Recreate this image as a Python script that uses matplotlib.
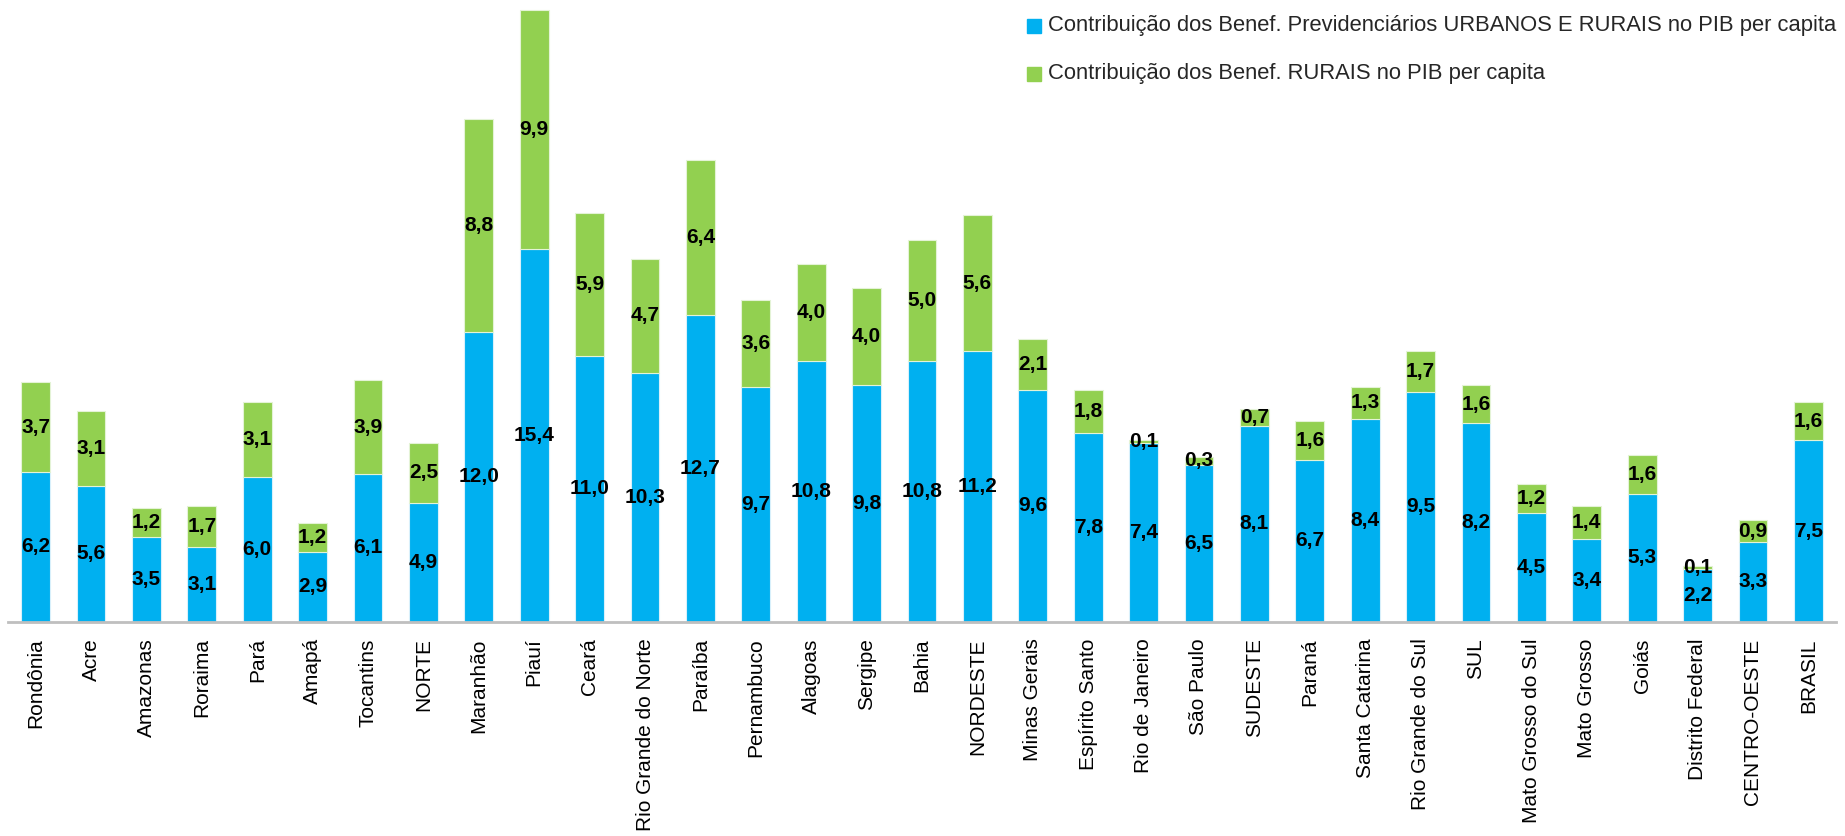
import matplotlib
matplotlib.use("Agg")
import matplotlib.pyplot as plt
from matplotlib.patches import Rectangle

plt.rcParams['font.family'] = ['Liberation Sans', 'DejaVu Sans']

estados = ['Rondônia', 'Acre', 'Amazonas', 'Roraima', 'Pará', 'Amapá', 'Tocantins', 'NORTE',
           'Maranhão', 'Piauí', 'Ceará', 'Rio Grande do Norte', 'Paraíba', 'Pernambuco',
           'Alagoas', 'Sergipe', 'Bahia', 'NORDESTE', 'Minas Gerais', 'Espírito Santo',
           'Rio de Janeiro', 'São Paulo', 'SUDESTE', 'Paraná', 'Santa Catarina',
           'Rio Grande do Sul', 'SUL', 'Mato Grosso do Sul', 'Mato Grosso', 'Goiás',
           'Distrito Federal', 'CENTRO-OESTE', 'BRASIL']

urb_rur = [6.2, 5.6, 3.5, 3.1, 6.0, 2.9, 6.1, 4.9,
           12.0, 15.4, 11.0, 10.3, 12.7, 9.7,
           10.8, 9.8, 10.8, 11.2, 9.6, 7.8,
           7.4, 6.5, 8.1, 6.7, 8.4,
           9.5, 8.2, 4.5, 3.4, 5.3,
           2.2, 3.3, 7.5]

rurais = [3.7, 3.1, 1.2, 1.7, 3.1, 1.2, 3.9, 2.5,
          8.8, 9.9, 5.9, 4.7, 6.4, 3.6,
          4.0, 4.0, 5.0, 5.6, 2.1, 1.8,
          0.1, 0.3, 0.7, 1.6, 1.3,
          1.7, 1.6, 1.2, 1.4, 1.6,
          0.1, 0.9, 1.6]

leg1 = 'Contribuição dos Benef. Previdenciários URBANOS E RURAIS no PIB per capita'
leg2 = 'Contribuição dos Benef. RURAIS no PIB per capita'

azul = '#00B0F0'
verde = '#92D050'

W, H = 1845, 836
fig = plt.figure(figsize=(W / 100, H / 100), dpi=100)
ax = fig.add_axes([8 / W, (H - 621.7) / H, (1836 - 8) / W, 621.7 / H])

x = list(range(len(estados)))
ax.bar(x, urb_rur, width=0.52, color=azul, edgecolor='#d8f0fb', linewidth=0.8)
ax.bar(x, rurais, width=0.52, bottom=urb_rur, color=verde, edgecolor='#e4f3d6', linewidth=0.8)

fmt = lambda v: ('%.1f' % v).replace('.', ',')
for i in x:
    ax.text(i, urb_rur[i] / 2, fmt(urb_rur[i]), ha='center', va='center',
            fontsize=15, fontweight='bold', color='black')
    ax.text(i, urb_rur[i] + rurais[i] / 2, fmt(rurais[i]), ha='center', va='center',
            fontsize=15, fontweight='bold', color='black')

ax.set_xlim(-0.5, len(estados) - 0.5)
ax.set_ylim(0, 621.7 / 24.18)
ax.set_xticks(x)
ax.set_xticklabels(estados, rotation=90, fontsize=15, color='black')
ax.tick_params(axis='x', length=0, pad=12)
ax.set_yticks([])
for s in ['top', 'right', 'left']:
    ax.spines[s].set_visible(False)
ax.spines['bottom'].set_color('#BFBFBF')
ax.spines['bottom'].set_linewidth(2)

# legenda manual
fig.patches.append(Rectangle((1027 / W, 1 - 33 / H), 14 / W, 14 / H, color=azul,
                             transform=fig.transFigure, figure=fig))
fig.patches.append(Rectangle((1027 / W, 1 - 81 / H), 14 / W, 14 / H, color=verde,
                             transform=fig.transFigure, figure=fig))
t1 = fig.text(1048 / W, 1 - 26 / H, leg1, fontsize=16, va='center', ha='left', color='#262626')
t2 = fig.text(1048 / W, 1 - 74 / H, leg2, fontsize=16, va='center', ha='left', color='#262626')

# ajusta tamanho da fonte da legenda pra caber na largura do original (~791 px)
r = fig.canvas.get_renderer()
w1 = t1.get_window_extent(r).width
fs = 16 * 791 / w1
t1.set_fontsize(fs)
t2.set_fontsize(fs)

fig.savefig('out.png', dpi=100)
